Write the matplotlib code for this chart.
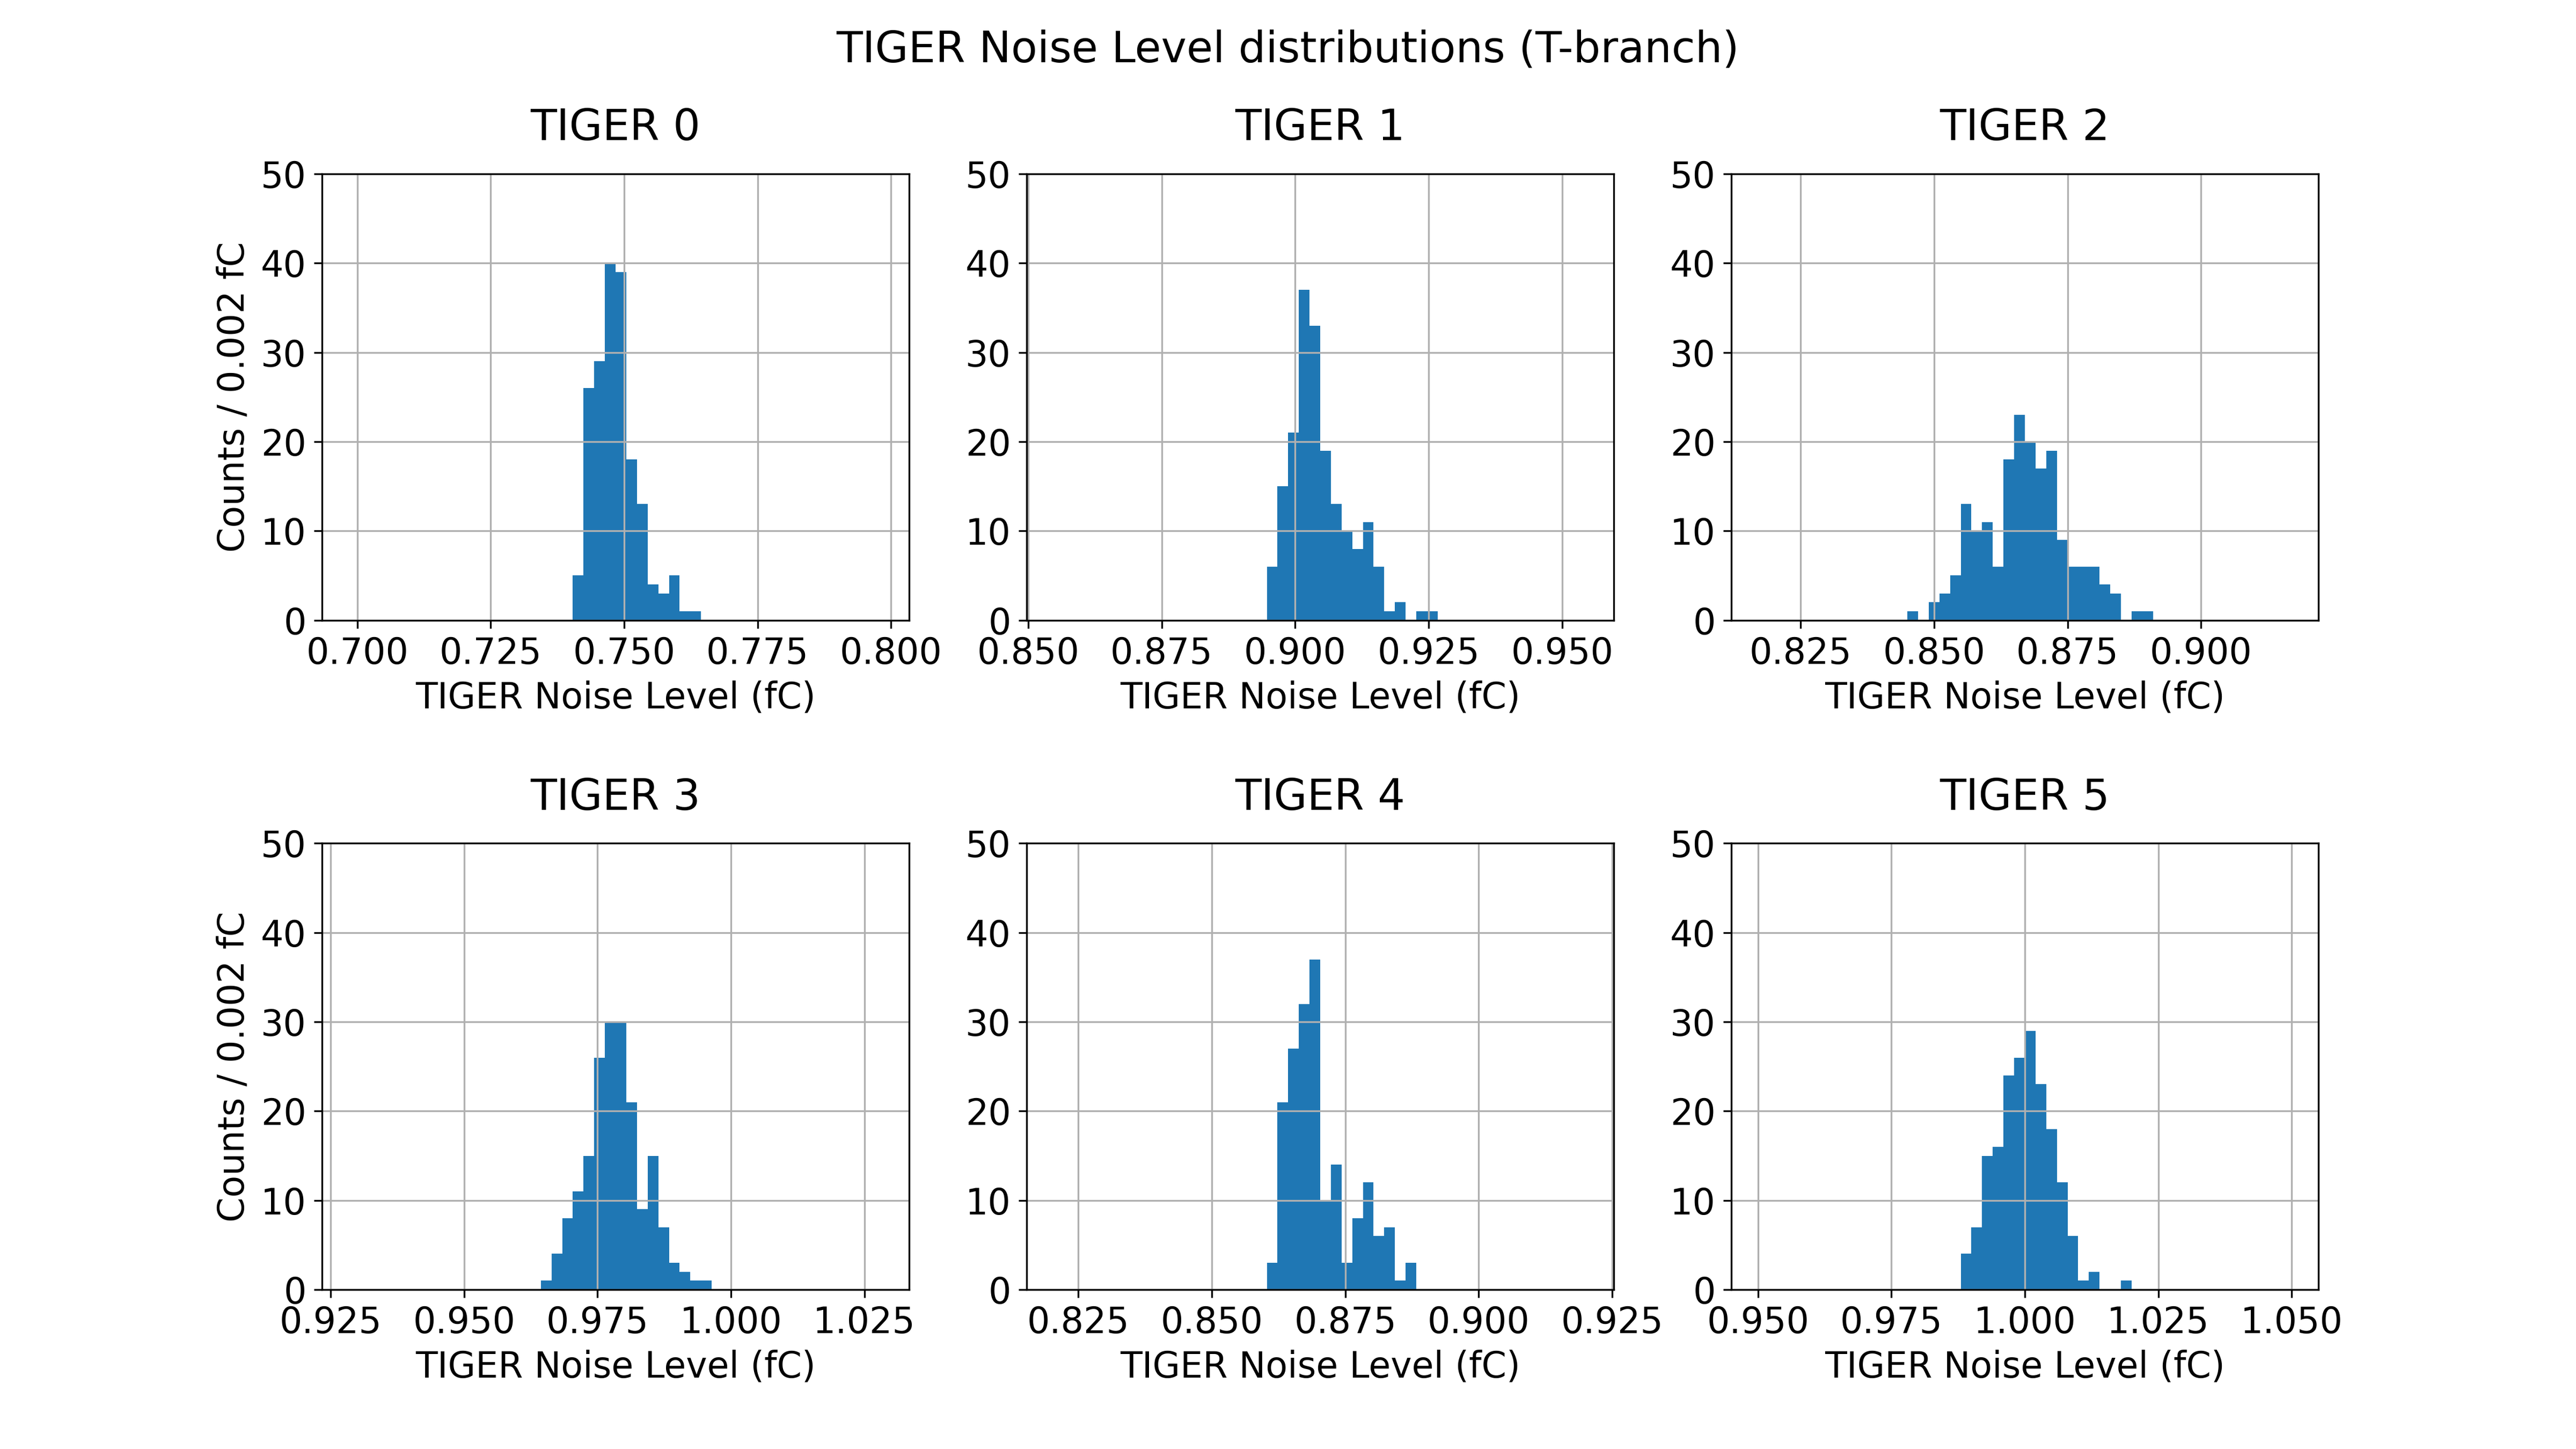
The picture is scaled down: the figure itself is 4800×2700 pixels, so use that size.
import numpy as np
import matplotlib
matplotlib.use("Agg")
import matplotlib.pyplot as plt

# histogram range start for each TIGER (50 bins of 0.002 fC)
range_lo = [0.6984, 0.8547, 0.8170, 0.9284, 0.8203, 0.9500]
first_bin = [21, 20, 14, 18, 20, 19]
bin_width = 0.002
n_bins = 50

# counts of the non-empty stretch of each histogram
tiger0 = [5, 26, 29, 40, 39, 18, 13, 4, 3, 5, 1, 1]
tiger1 = [6, 15, 21, 37, 33, 19, 13, 10, 8, 11, 6, 1, 2, 0, 1, 1]
tiger2 = [1, 0, 2, 3, 5, 13, 10, 11, 6, 18, 23, 20, 17, 19, 9, 6, 6, 6, 4, 3, 0, 1, 1]
tiger3 = [1, 4, 8, 11, 15, 26, 30, 30, 21, 9, 15, 7, 3, 2, 1, 1]
tiger4 = [3, 21, 27, 32, 37, 10, 14, 3, 8, 12, 6, 7, 1, 3]
tiger5 = [4, 7, 15, 16, 24, 26, 29, 23, 18, 12, 6, 1, 2, 0, 0, 1]
all_counts = [tiger0, tiger1, tiger2, tiger3, tiger4, tiger5]

plt.rcParams['font.size'] = 16

fig, axes = plt.subplots(2, 3, figsize=(16, 9), dpi=300)
fig.subplots_adjust(hspace=0.5)
fig.suptitle("TIGER Noise Level distributions (T-branch)")

for i, ax in enumerate(axes.flat):
    edges = range_lo[i] + bin_width * np.arange(n_bins + 1)
    counts = np.zeros(n_bins)
    c = all_counts[i]
    counts[first_bin[i]:first_bin[i] + len(c)] = c
    centers = 0.5 * (edges[:-1] + edges[1:])
    ax.hist(centers, bins=edges, weights=counts)
    ax.set_ylim(0, 50)
    ax.set_title(f"TIGER {i}", pad=15)
    ax.set_xlabel("TIGER Noise Level (fC)")
    if i % 3 == 0:
        ax.set_ylabel("Counts / 0.002 fC")
    ax.grid()

fig.savefig("out.png", dpi=300)
